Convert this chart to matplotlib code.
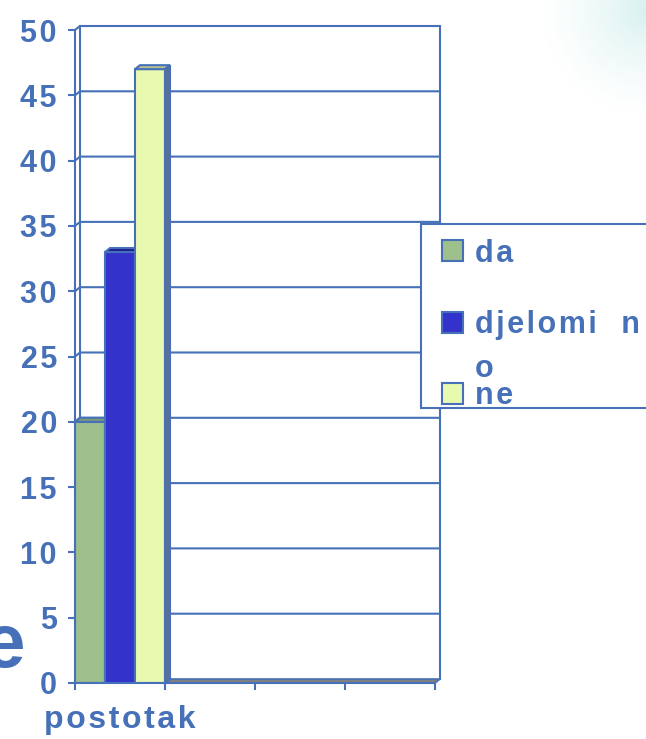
import matplotlib.pyplot as plt
import numpy as np
from matplotlib.patches import Polygon, Rectangle

# data
series = ['da', 'djelomi  n', 'ne']
values = [20, 33, 47]
categories = ['postotak']
n_slots = 4
y_ticks = [0, 5, 10, 15, 20, 25, 30, 35, 40, 45, 50]

colors = ['#9DC08D', '#3333CC', '#E8F9B0']
top_colors = ['#7E9E70', '#1E1E90', '#B8C090']
side_color = '#5A6E9A'
blue = '#4670B8'

W, H = 646, 739
FONT = ['Liberation Sans', 'DejaVu Sans']
HS = '\u200a'


def spaced(s):
    return HS.join(s)


def fx(px):
    return px / W


def fy(py):
    return 1 - py / H


fig = plt.figure(figsize=(W / 100, H / 100), dpi=100)

# faint glow in the top right corner
bg = fig.add_axes([0, 0, 1, 1], zorder=-5)
yy, xx = np.mgrid[0:H, 0:W]
d = np.sqrt((xx - W) ** 2 + (yy - 10) ** 2)
a = np.clip(1 - d / 110, 0, 1) ** 1.5 * 0.35
img = np.zeros((H, W, 4))
img[..., 0] = 0.55
img[..., 1] = 0.85
img[..., 2] = 0.82
img[..., 3] = a
bg.imshow(img, extent=[0, W, H, 0])
bg.axis('off')

ax = fig.add_axes([fx(75), fy(683), fx(360), 653 / H])
ax.set_xlim(0, n_slots)
ax.set_ylim(0, 50)
ax.patch.set_alpha(0)

# depth offset in data units
dx = 5 / 90
dy = 4 / 13.06

# back wall grid lines
for v in y_ticks[1:]:
    ax.plot([0, dx, n_slots + dx], [v, v + dy, v + dy], color=blue, lw=1.5,
            zorder=1, clip_on=False, solid_capstyle='butt')
ax.plot([dx, dx], [dy, 50 + dy], color=blue, lw=1.5, zorder=1, clip_on=False)
ax.plot([n_slots + dx, n_slots + dx], [dy, 50 + dy], color=blue, lw=1.5,
        zorder=1, clip_on=False)

# floor
ax.add_patch(Polygon([(0, 0), (n_slots, 0), (n_slots + dx, dy), (dx, dy)],
                     closed=True, facecolor='#808080', edgecolor=blue, lw=1.2,
                     zorder=2, clip_on=False))

# bars
bw = 1 / len(series)
for i, (name, v) in enumerate(zip(series, values)):
    x0 = i * bw
    x1 = x0 + bw
    z = 3 + i
    ax.bar(x0, v, width=bw, align='edge', color=colors[i], edgecolor=blue,
           lw=1.5, zorder=z)
    ax.add_patch(Polygon([(x0, v), (x0 + dx, v + dy), (x1 + dx, v + dy), (x1, v)],
                         closed=True, facecolor=top_colors[i], edgecolor=blue,
                         lw=1.5, zorder=z, clip_on=False))
    ax.add_patch(Polygon([(x1, 0), (x1, v), (x1 + dx, v + dy), (x1 + dx, dy)],
                         closed=True, facecolor=side_color, edgecolor=blue,
                         lw=1.5, zorder=z, clip_on=False))

# axes
for s in ['top', 'right']:
    ax.spines[s].set_visible(False)
for s in ['left', 'bottom']:
    ax.spines[s].set_color(blue)
    ax.spines[s].set_linewidth(1.5)
    ax.spines[s].set_zorder(10)
ax.set_yticks(y_ticks)
ax.set_yticklabels([spaced(str(t)) for t in y_ticks], fontfamily=FONT,
                   fontweight='bold', fontsize=22, color=blue)
ax.set_xticks(range(n_slots + 1))
ax.set_xticklabels([])
ax.tick_params(axis='y', length=5, width=1.5, color=blue, pad=8)
ax.tick_params(axis='x', length=5, width=1.5, color=blue)

for i, c in enumerate(categories):
    ax.text(i + 0.5, -37 / 653, spaced(c), transform=ax.get_xaxis_transform(),
            ha='center', va='center', fontfamily=FONT, fontweight='bold',
            fontsize=23, color=blue)

# legend
fig.patches.append(Rectangle((fx(421), fy(408)), fx(260), 184 / H,
                             transform=fig.transFigure, facecolor='white',
                             edgecolor=blue, lw=1.5, zorder=20))
marker_y = [240, 312, 383]
text_base = [262, 333, 404]
for i, name in enumerate(series):
    fig.patches.append(Rectangle((fx(442), fy(marker_y[i] + 21)), fx(21), 21 / H,
                                 transform=fig.transFigure, facecolor=colors[i],
                                 edgecolor=blue, lw=1.5, zorder=21))
    fig.text(fx(475), fy(text_base[i]), spaced(name), ha='left', va='baseline',
             fontfamily=FONT, fontweight='bold', fontsize=22, color=blue,
             zorder=22)
fig.text(fx(475), fy(377), 'o', ha='left', va='baseline', fontfamily=FONT,
         fontweight='bold', fontsize=22, color=blue, zorder=22)

# cut-off letter at the left edge
fig.text(fx(26), fy(667), 'e', ha='right', va='baseline', fontfamily=FONT,
         fontweight='bold', fontsize=55, color=blue)

fig.savefig('out.png', dpi=100)
